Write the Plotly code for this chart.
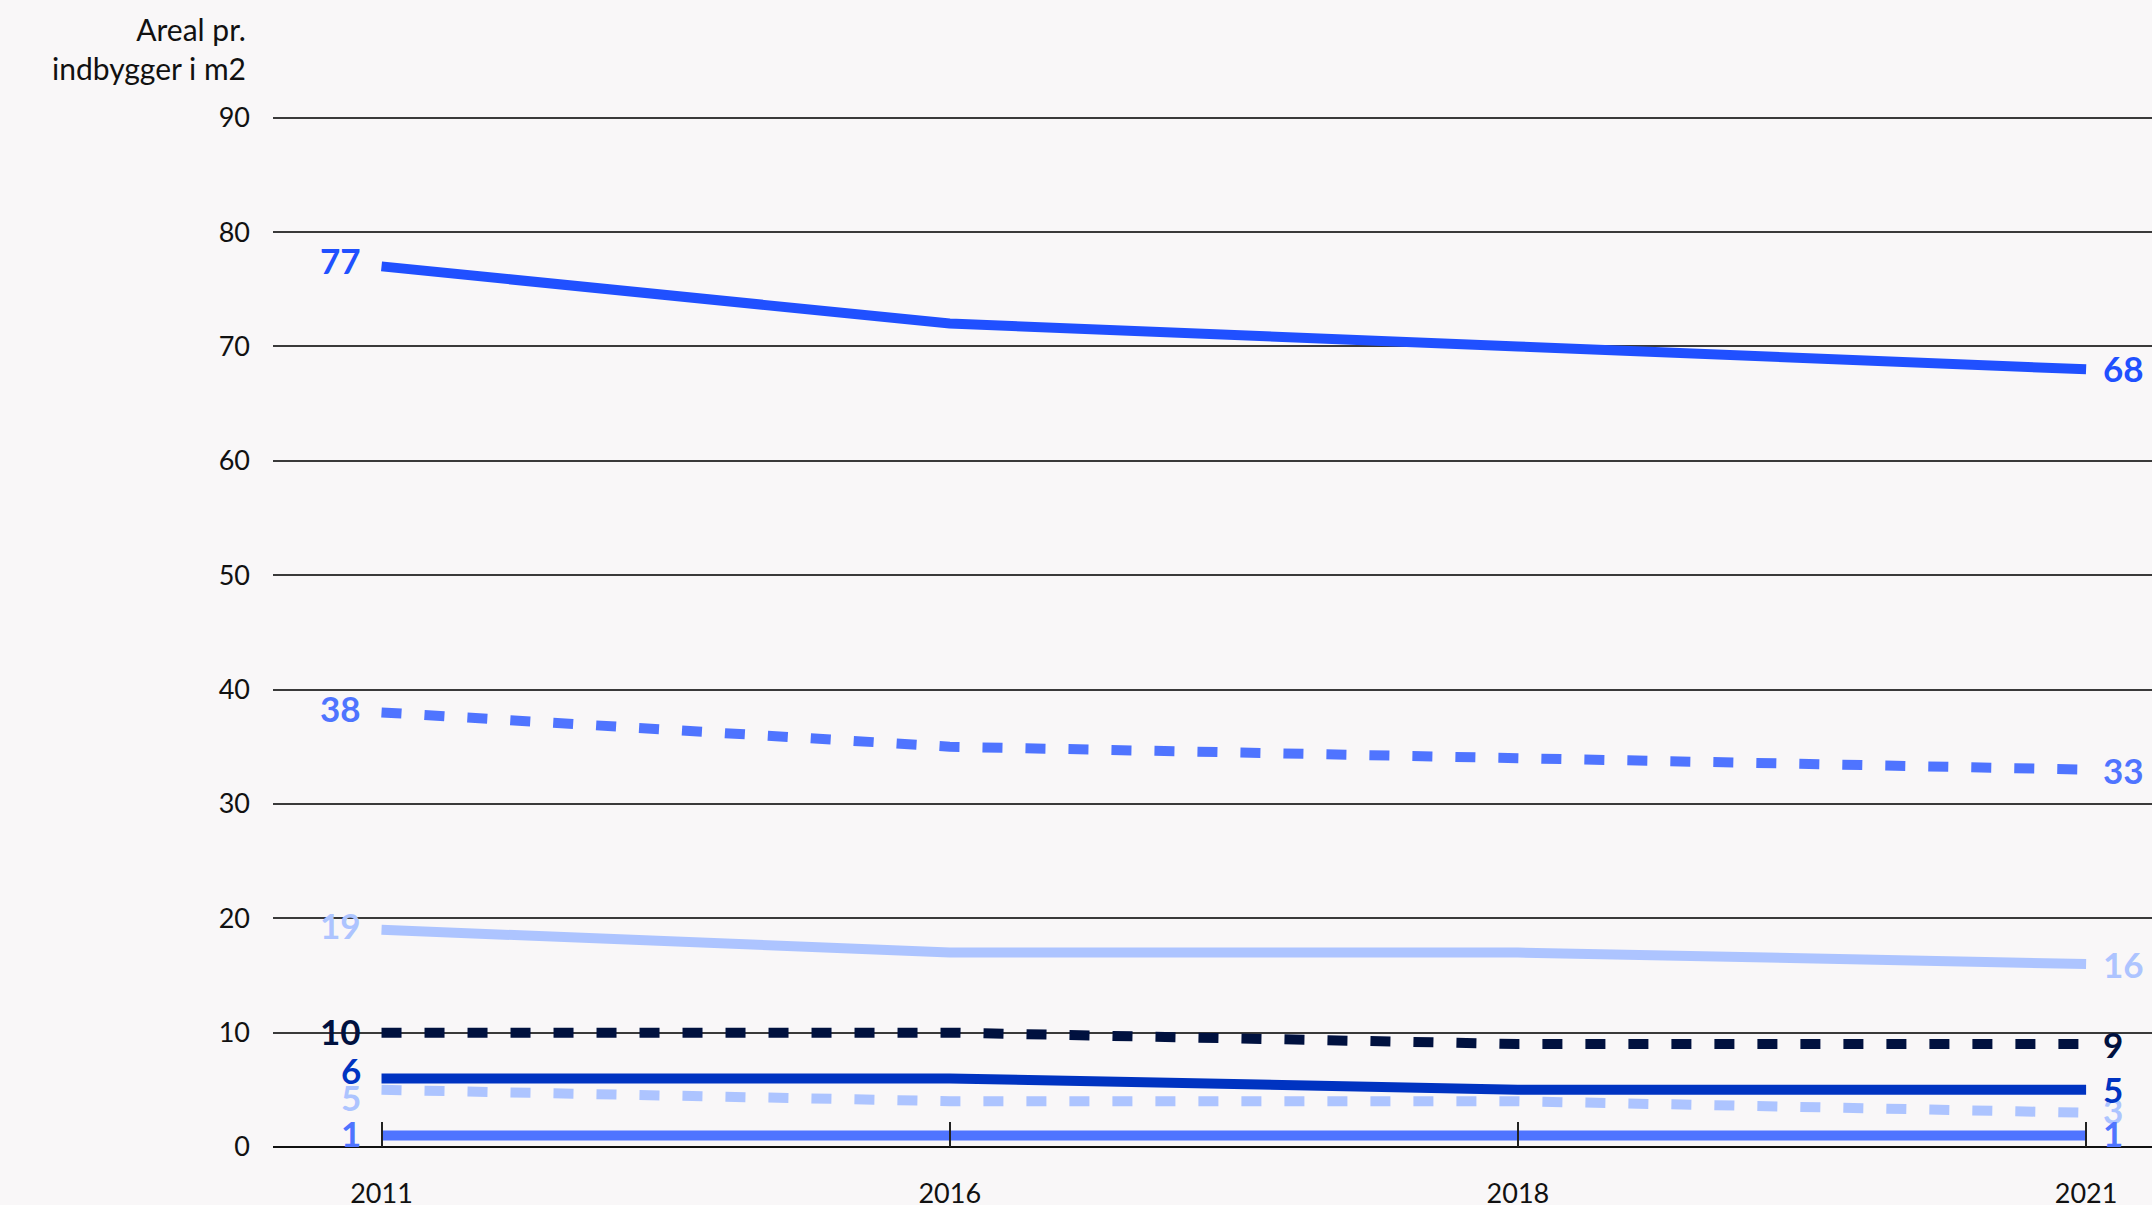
import plotly.graph_objects as go

years = ["2011", "2016", "2018", "2021"]
s1 = [77, 72, 70, 68]
s2 = [38, 35, 34, 33]
s3 = [19, 17, 17, 16]
s4 = [10, 10, 9, 9]
s5 = [6, 6, 5, 5]
s6 = [5, 4, 4, 3]
s7 = [1, 1, 1, 1]
y_ticks = [0, 10, 20, 30, 40, 50, 60, 70, 80, 90]

# (values, colour, dash, label nudge left, label nudge right)
series = [
    (s1, "#2050ff", "solid", 6, 1),
    (s2, "#4f74ff", "20px,23px", 4, 0),
    (s3, "#adc4ff", "solid", 5, 0),
    (s6, "#adc4ff", "20px,23px", -7, 3),
    (s7, "#4f74ff", "solid", 3, 3),
    (s5, "#0033c1", "solid", 8, 1),
    (s4, "#00113f", "20px,23px", 2, 0),
]

xidx = list(range(len(years)))
fig = go.Figure()
annotations = []
for vals, color, dash, nl, nr in series:
    fig.add_trace(go.Scatter(x=xidx, y=vals, mode="lines",
                             line=dict(color=color, width=10, dash=dash),
                             cliponaxis=False, showlegend=False, hoverinfo="skip"))
    annotations.append(dict(x=xidx[0], y=vals[0], xref="x", yref="y", text=str(vals[0]),
                            showarrow=False, xanchor="right", yanchor="middle", xshift=-19, yshift=nl,
                            font=dict(family="Lato", size=35, color=color, weight="bold")))
    annotations.append(dict(x=xidx[-1], y=vals[-1], xref="x", yref="y", text=str(vals[-1]),
                            showarrow=False, xanchor="left", yanchor="middle", xshift=15, yshift=nr,
                            font=dict(family="Lato", size=35, color=color, weight="bold")))

annotations.append(dict(x=0, y=1.061, xref="paper", yref="paper",
                        text="Areal pr.<br>indbygger i m2", showarrow=False,
                        xanchor="right", yanchor="middle", xshift=-25, align="right",
                        font=dict(family="Lato", size=30, color="#111111")))

fig.update_layout(
    width=2152, height=1205,
    margin=dict(l=273, r=0, t=112, b=58),
    paper_bgcolor="#f9f7f8", plot_bgcolor="#f9f7f8",
    font=dict(family="Lato", size=27, color="#111111"),
    annotations=annotations,
    xaxis=dict(range=[-0.191, 3.116], tickvals=xidx, ticktext=years, automargin=False,
               showgrid=False, zeroline=False, showline=False,
               ticks="inside", ticklen=25, tickcolor="#222222", tickwidth=1.5,
               ticklabelstandoff=28, tickfont=dict(size=27)),
    yaxis=dict(range=[0, 90.5], tickvals=y_ticks, showgrid=True, automargin=False,
               gridcolor="#3a3a3a", gridwidth=1.5,
               zeroline=True, zerolinecolor="#111111", zerolinewidth=2,
               showline=False, ticks="", ticklabelstandoff=22, tickfont=dict(size=27)),
)

fig.write_html("out.html", config={"displayModeBar": False},
               post_script="document.body.style.margin='0';")
